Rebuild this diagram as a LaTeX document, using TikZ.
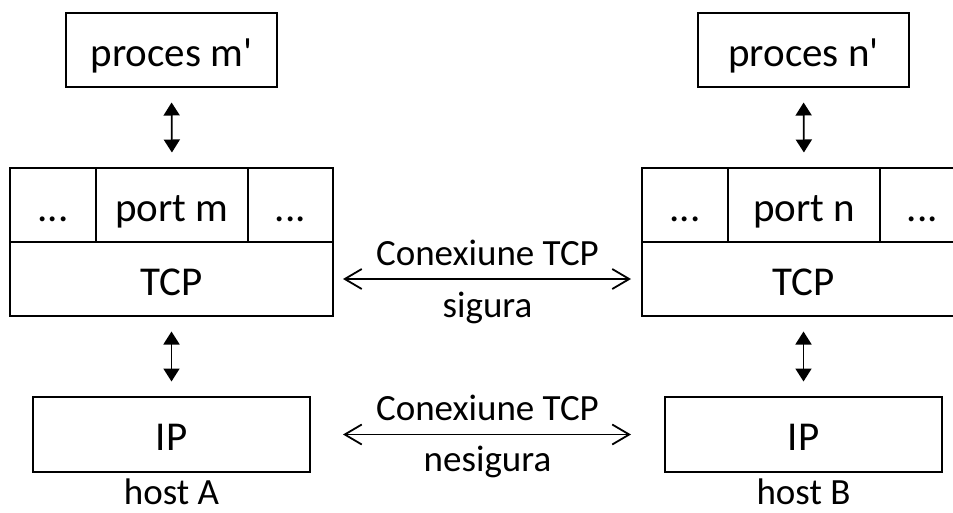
\documentclass[tikz,border=0pt]{standalone}
\usepackage{fontspec}
\setmainfont{Carlito}
\usetikzlibrary{positioning,arrows.meta,calc}

\begin{document}
\begin{tikzpicture}[
    x=1pt, y=-1pt,
    box/.style={
        draw,
        line width=1.8pt,
        inner sep=0pt,
        outer sep=0pt,
        anchor=north west,
        minimum height=74pt,
        font=\fontsize{41}{49}\selectfont,
        text height=40pt,
        text depth=8pt
    },
    lbl/.style={anchor=base, inner sep=0pt, font=\fontsize{37}{44}\selectfont},
    updown/.style={arrows={Triangle[width=16pt,length=13pt]-Triangle[width=16pt,length=13pt]},
        line width=1.8pt, shorten <=15.5pt, shorten >=15.5pt},
    link/.style={arrows={Straight Barb[width=20pt,length=17pt]-Straight Barb[width=20pt,length=17pt]},
        line width=1.8pt}
]
\useasboundingbox (0,0) rectangle (953,512);

% host A (left)
\node[box, minimum width=211pt] (procA) at (66,13) {proces m\textquotesingle};
\node[box, minimum width=86pt] (dotsA1) at (10,168) {...};
\node[box, minimum width=152pt] (portA) at (dotsA1.north east) {port m};
\node[box, minimum width=85pt] (dotsA2) at (portA.north east) {...};
\node[box, minimum width=323pt] (tcpA) at (dotsA1.south west) {TCP};
\node[box, minimum width=277pt, minimum height=75pt] (ipA) at (33,397) {IP};
\node[lbl] (hostA) at ($(ipA.south)+(0,32)$) {host A};

% host B (right)
\node[box, minimum width=211pt] (procB) at (698,13) {proces n\textquotesingle};
\node[box, minimum width=86pt] (dotsB1) at (642,168) {...};
\node[box, minimum width=152pt] (portB) at (dotsB1.north east) {port n};
\node[box, minimum width=85pt] (dotsB2) at (portB.north east) {...};
\node[box, minimum width=323pt] (tcpB) at (dotsB1.south west) {TCP};
\node[box, minimum width=277pt, minimum height=75pt] (ipB) at (665,397) {IP};
\node[lbl] (hostB) at ($(ipB.south)+(0,32)$) {host B};

% Vertical arrows
\draw[updown] (procA.south) -- (portA.north);
\draw[updown] (tcpA.south) -- (ipA.north);
\draw[updown] (procB.south) -- (portB.north);
\draw[updown] (tcpB.south) -- (ipB.north);

% Connections between hosts
\draw[link, shorten <=10pt, shorten >=11pt] (tcpA.east) -- (tcpB.west)
    node[lbl, midway, yshift=14pt] (sigTop) {Conexiune TCP}
    node[lbl, midway, yshift=-38pt] (sigBot) {sigura};
\draw[link, shorten <=33pt, shorten >=34pt] (ipA.east) -- (ipB.west)
    node[lbl, midway, yshift=14pt] (nesTop) {Conexiune TCP}
    node[lbl, midway, yshift=-37pt] (nesBot) {nesigura};

\end{tikzpicture}
\end{document}
